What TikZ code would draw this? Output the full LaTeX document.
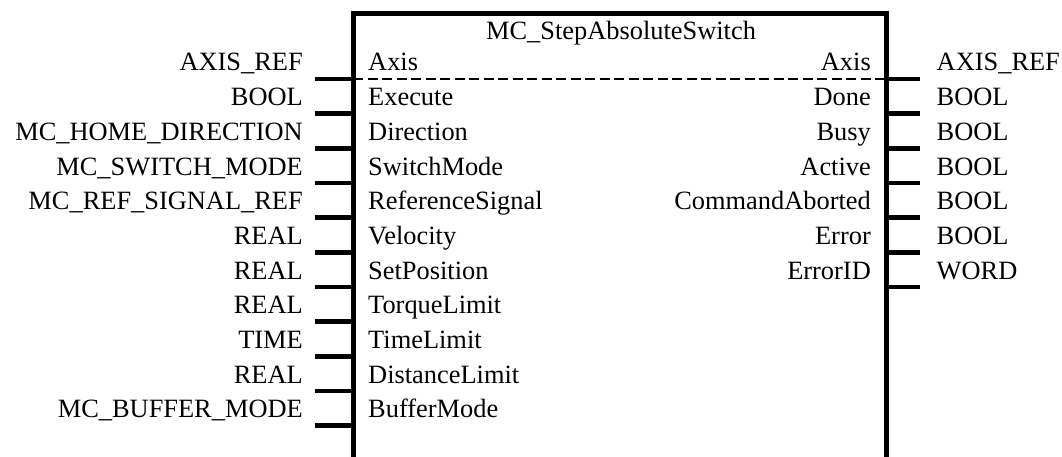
\documentclass[tikz,border=0pt]{standalone}
\usepackage{fontspec}
\setmainfont{Liberation Serif}
\begin{document}
\begin{tikzpicture}[x=1pt,y=-1pt,
  lbl/.style={font=\fontsize{26.4}{30}\selectfont, inner sep=0pt},
  boxline/.style={line width=5pt, line join=miter},
  pin/.style={line width=4.5pt},
  sep/.style={line width=1.3pt, dash pattern=on 10pt off 4.5pt}]
\useasboundingbox (0,0) rectangle (1062,457);
% block outline (open at the bottom)
\coordinate (BLb) at (353,470);
\coordinate (BLt) at (353,14);
\coordinate (BRt) at (886,14);
\coordinate (BRb) at (886,470);
\draw[boxline] (BLb) -- (BLt) -- (BRt) -- (BRb);
\node[lbl, anchor=base] (title) at (621,40) {MC\_StepAbsoluteSwitch};
% separator below Axis
\coordinate (SepL) at (353,79);
\coordinate (SepR) at (886,79);
\draw[sep] (SepL) -- (SepR);
% inputs
\foreach \k/\t/\n in {0/AXIS\_REF/Axis, 1/BOOL/Execute, 2/MC\_HOME\_DIRECTION/Direction,
  3/MC\_SWITCH\_MODE/SwitchMode, 4/MC\_REF\_SIGNAL\_REF/ReferenceSignal, 5/REAL/Velocity,
  6/REAL/SetPosition, 7/REAL/TorqueLimit, 8/TIME/TimeLimit, 9/REAL/DistanceLimit,
  10/MC\_BUFFER\_MODE/BufferMode}{
  \coordinate (Ia\k) at (315,79+34.67*\k);
  \coordinate (Ib\k) at (353,79+34.67*\k);
  \draw[pin] (Ia\k) -- (Ib\k);
  \node[lbl, anchor=base east] (It\k) at (303,71+34.67*\k) {\t};
  \node[lbl, anchor=base west] (In\k) at (368,71+34.67*\k) {\n};
}
% outputs
\foreach \k/\t/\n in {0/AXIS\_REF/Axis, 1/BOOL/Done, 2/BOOL/Busy, 3/BOOL/Active,
  4/BOOL/CommandAborted, 5/BOOL/Error, 6/WORD/ErrorID}{
  \coordinate (Oa\k) at (886,79+34.67*\k);
  \coordinate (Ob\k) at (920,79+34.67*\k);
  \draw[pin] (Oa\k) -- (Ob\k);
  \node[lbl, anchor=base west] (Ot\k) at (936.5,71+34.67*\k) {\t};
  \node[lbl, anchor=base east] (On\k) at (871,71+34.67*\k) {\n};
}
\end{tikzpicture}
\end{document}
